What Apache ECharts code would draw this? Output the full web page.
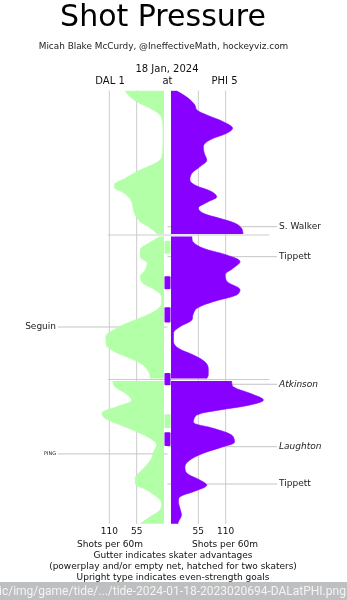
<!DOCTYPE html>
<html><head><meta charset="utf-8">
<script src="https://cdn.jsdelivr.net/npm/echarts@6/dist/echarts.min.js"></script>
<style>html,body{margin:0;padding:0;background:#fff}#c{width:347px;height:600px}</style>
</head><body><div id="c"></div>
<script>
// ---- data: [minute, shots per 60] ----
const dalP1 = [[0.05,78],[0.62,72],[1.55,55],[2.46,28],[3.39,8],[4.32,3],[6.16,2],[8.47,3],[9.62,8],[10.31,25],[11.24,55],[12.15,78],[13.08,100],[13.54,99],[14.01,85],[14.70,72],[15.39,65],[16.30,62],[17.23,58],[18.16,48],[18.85,31],[19.54,18],[19.85,14]];
const phiP1 = [[0.05,11],[1.08,35],[2.01,48],[2.70,52],[3.39,72],[4.32,105],[5.23,124],[5.92,112],[6.85,78],[7.78,65],[8.69,67],[9.62,72],[10.55,58],[11.46,42],[12.39,38],[13.08,48],[14.01,82],[14.70,92],[15.39,75],[16.30,55],[17.00,65],[17.69,98],[18.38,129],[19.07,142],[19.85,145]];
const dalP2 = [[20.2,8],[21.15,31],[22.08,48],[23.0,48],[23.92,34],[24.84,38],[25.77,48],[26.69,42],[27.61,18],[28.54,5],[29.45,5],[30.38,15],[31.31,42],[32.22,75],[33.15,102],[34.08,117],[35.22,116],[36.15,99],[37.07,68],[37.99,42],[38.92,31],[39.61,28],[39.85,28]];
const phiP2 = [[20.2,42],[20.93,44],[21.84,65],[22.77,112],[23.70,139],[24.61,125],[25.54,109],[26.46,113],[27.61,139],[28.30,132],[29.23,85],[30.15,52],[31.07,44],[31.76,42],[32.69,18],[33.61,5],[34.77,5],[35.68,15],[36.61,45],[37.54,68],[38.45,75],[39.38,75],[39.85,72]];
const dalP3 = [[40.2,103],[41.0,99],[41.91,78],[42.84,65],[43.76,95],[44.68,125],[45.37,119],[46.30,88],[47.22,55],[48.14,28],[49.07,15],[49.99,21],[50.91,25],[51.83,35],[52.76,48],[53.67,58],[54.37,58],[55.29,35],[56.22,15],[57.13,5],[58.06,8],[58.99,28],[59.95,48]];
const phiP3 = [[40.2,122],[41.0,125],[41.91,159],[42.84,186],[43.53,159],[44.22,98],[44.91,52],[45.84,45],[46.75,85],[47.68,122],[48.61,128],[49.30,105],[50.21,65],[51.14,38],[52.07,28],[52.98,32],[53.91,58],[54.60,72],[55.53,45],[56.22,18],[56.91,15],[57.83,18],[58.76,21],[59.68,15],[59.95,14]];

const tickValues = [55, 110];
const periodBreaks = [20, 40];

// skater advantages (gutter)
const ppTeam  = ['DAL','PHI','PHI','PHI','DAL','PHI'];
const ppStart = [20.8, 25.7, 30.0, 39.1, 44.8, 47.3];
const ppEnd   = [22.6, 27.5, 32.1, 40.8, 46.7, 49.2];

// goals
const goalTeam  = ['PHI','PHI','DAL','PHI','PHI','DAL','PHI'];
const goalTime  = [18.85, 23.0, 32.73, 40.66, 49.3, 50.3, 54.46];
const goalName  = ['S. Walker','Tippett','Seguin','Atkinson','Laughton','PING','Tippett'];
const goalEven  = [true, true, true, false, false, true, true];

// ---- layout / style ----
const MS = 60000;
const FONT = 'DejaVu Sans';
const GREEN = '#b3ffa8', PURPLE = '#8800ff';
const SCALE = 0.497, XMAX = 200, W = XMAX * SCALE;
const CL = 164, CR = 171, TOP = 90.5, BOT = 76;

const toData = arr => arr.map(([t, v]) => [v, t * MS]);

const chart = echarts.init(document.getElementById('c'), null, {renderer: 'canvas'});

const labelCfg = {
  fontFamily: FONT, fontSize: 9, color: '#111', margin: 3,
  formatter: v => tickValues.includes(v) ? String(v) : ''
};

function areaSeries(data, gi, color) {
  return {
    type: 'line', xAxisIndex: gi, yAxisIndex: gi, data: toData(data),
    smooth: 0.35, symbol: 'none', silent: true, z: 3,
    lineStyle: {width: 0.6, color: color},
    areaStyle: {color: color, opacity: 1}
  };
}

function gridLineSeries(gi) {
  return {
    type: 'custom', xAxisIndex: gi, yAxisIndex: gi, z: 0, silent: true,
    data: tickValues.map(v => [v]),
    renderItem: (p, api) => {
      const a = api.coord([api.value(0), 0]);
      const b = api.coord([api.value(0), 60 * MS]);
      return {type: 'line', shape: {x1: a[0], y1: a[1], x2: b[0], y2: b[1]},
        style: {stroke: '#cccccc', lineWidth: 1}};
    }
  };
}

const option = {
  animation: false,
  backgroundColor: '#ffffff',
  grid: [
    {left: CL - W, width: W, top: TOP, bottom: BOT},
    {left: CR, width: W, top: TOP, bottom: BOT},
    {left: 164.5, width: 6, top: TOP, bottom: BOT},
    {left: 58, right: 70, top: TOP, bottom: BOT}
  ],
  xAxis: [
    {gridIndex: 0, type: 'value', min: 0, max: XMAX, interval: 55, inverse: true,
     axisLine: {show: false}, axisTick: {show: false}, splitLine: {show: false}, axisLabel: labelCfg},
    {gridIndex: 1, type: 'value', min: 0, max: XMAX, interval: 55,
     axisLine: {show: false}, axisTick: {show: false}, splitLine: {show: false}, axisLabel: labelCfg},
    {gridIndex: 2, type: 'value', min: 0, max: 1, show: false},
    {gridIndex: 3, type: 'value', min: -1, max: 1, show: false}
  ],
  yAxis: [0, 1, 2, 3].map(i => ({gridIndex: i, type: 'time', min: 0, max: 60 * MS, inverse: true, show: false})),
  series: [
    gridLineSeries(0), gridLineSeries(1),
    {
      type: 'custom', xAxisIndex: 3, yAxisIndex: 3, z: 0, silent: true,
      data: periodBreaks.map(t => [t * MS]),
      renderItem: (p, api) => {
        const a = api.coord([-0.545, api.value(0)]);
        const b = api.coord([0.93, api.value(0)]);
        return {type: 'line', shape: {x1: a[0], y1: a[1], x2: b[0], y2: b[1]},
          style: {stroke: '#cccccc', lineWidth: 1}};
      }
    },
    {
      type: 'custom', xAxisIndex: 3, yAxisIndex: 3, z: 1, silent: true,
      data: goalTime.map((t, i) => [goalTeam[i] === 'PHI' ? 1 : -1, t * MS]),
      renderItem: (p, api) => {
        const i = p.dataIndex;
        const side = api.value(0);
        const a = api.coord([0, api.value(1)]);
        const b = api.coord([side, api.value(1)]);
        const tiny = goalName[i] === 'PING';
        return {type: 'group', children: [
          {type: 'line', shape: {x1: a[0], y1: a[1], x2: b[0], y2: b[1]},
           style: {stroke: '#c4c4c4', lineWidth: 1}},
          {type: 'text', x: b[0] + (side > 0 ? 2 : -2), y: b[1],
           style: {text: goalName[i], fill: '#222',
             font: (goalEven[i] ? '' : 'italic ') + (tiny ? '5px ' : '9px ') + FONT,
             align: side > 0 ? 'left' : 'right', verticalAlign: 'middle'}}
        ]};
      }
    },
    areaSeries(dalP1, 0, GREEN), areaSeries(dalP2, 0, GREEN), areaSeries(dalP3, 0, GREEN),
    areaSeries(phiP1, 1, PURPLE), areaSeries(phiP2, 1, PURPLE), areaSeries(phiP3, 1, PURPLE),
    {
      type: 'custom', xAxisIndex: 2, yAxisIndex: 2, z: 4, silent: true,
      data: ppStart.map((s, i) => [s * MS, ppEnd[i] * MS]),
      renderItem: (p, api) => {
        const a = api.coord([0, api.value(0)]);
        const b = api.coord([1, api.value(1)]);
        return {type: 'rect', shape: {x: a[0], y: a[1], width: b[0] - a[0], height: b[1] - a[1], r: 1},
          style: {fill: ppTeam[p.dataIndex] === 'DAL' ? GREEN : PURPLE}};
      }
    }
  ],
  graphic: [
    {type: 'text', x: 163, y: 18.5, style: {text: 'Shot Pressure', font: '30px ' + FONT, fill: '#000', align: 'center', verticalAlign: 'middle'}},
    {type: 'text', x: 163.5, y: 47, style: {text: 'Micah Blake McCurdy, @IneffectiveMath, hockeyviz.com', font: '8.9px ' + FONT, fill: '#222', align: 'center', verticalAlign: 'middle'}},
    {type: 'text', x: 167, y: 69, style: {text: '18 Jan, 2024', font: '10px ' + FONT, fill: '#111', align: 'center', verticalAlign: 'middle'}},
    {type: 'text', x: 110, y: 81, style: {text: 'DAL 1', font: '10px ' + FONT, fill: '#111', align: 'center', verticalAlign: 'middle'}},
    {type: 'text', x: 167.5, y: 81, style: {text: 'at', font: '10px ' + FONT, fill: '#111', align: 'center', verticalAlign: 'middle'}},
    {type: 'text', x: 224.5, y: 81, style: {text: 'PHI 5', font: '10px ' + FONT, fill: '#111', align: 'center', verticalAlign: 'middle'}},
    {type: 'text', x: 110, y: 544.5, style: {text: 'Shots per 60m', font: '9px ' + FONT, fill: '#111', align: 'center', verticalAlign: 'middle'}},
    {type: 'text', x: 225, y: 544.5, style: {text: 'Shots per 60m', font: '9px ' + FONT, fill: '#111', align: 'center', verticalAlign: 'middle'}},
    {type: 'text', x: 173, y: 556, style: {text: 'Gutter indicates skater advantages', font: '9px ' + FONT, fill: '#111', align: 'center', verticalAlign: 'middle'}},
    {type: 'text', x: 173, y: 567, style: {text: '(powerplay and/or empty net, hatched for two skaters)', font: '9px ' + FONT, fill: '#111', align: 'center', verticalAlign: 'middle'}},
    {type: 'text', x: 173, y: 578, style: {text: 'Upright type indicates even-strength goals', font: '9px ' + FONT, fill: '#111', align: 'center', verticalAlign: 'middle'}},
    {type: 'rect', x: 0, y: 582, shape: {width: 347, height: 18}, style: {fill: '#bdbfc1'}, z: 10},
    {type: 'text', x: -1, y: 592, z: 11, style: {text: 'ic/img/game/tide/.../tide-2024-01-18-2023020694-DALatPHI.png', font: '12px Roboto', fill: '#f4f4f4', align: 'left', verticalAlign: 'middle'}}
  ]
};
chart.setOption(option);
</script>
</body></html>
